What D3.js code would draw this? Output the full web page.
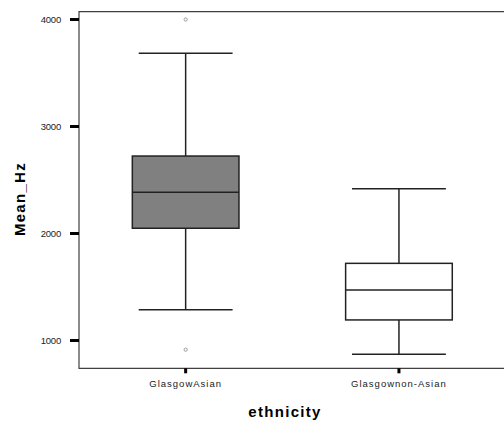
<!DOCTYPE html>
<html>
<head>
<meta charset="utf-8">
<script src="https://cdn.jsdelivr.net/npm/d3@7"></script>
<style>
	body { margin: 0; background: #fff; }
	svg { display: block; font-family: "Liberation Sans", Arial, sans-serif; }
</style>
</head>
<body>
<div id="chart"></div>
<script>
// groups on the x axis
const groups = ['GlasgowAsian', 'Glasgownon-Asian'];

// box statistics, one value per group
const whiskerLow = [1288, 871];
const q1 = [2049, 1192];
const median = [2385, 1472];
const q3 = [2724, 1721];
const whiskerHigh = [3684, 2418];

// outliers: [group index, value]
const outliers = [[0, 4000], [0, 914]];

const yTicks = [1000, 2000, 3000, 4000];

const width = 504, height = 423;

const svg = d3.select('#chart').append('svg')
	.attr('width', width)
	.attr('height', height);

const plotLeft = 79, plotTop = 11.7, plotBottom = 368.3;

const x = d3.scaleBand()
	.domain(groups)
	.range([plotLeft, 505.6])
	.padding(0);

const y = d3.scaleLinear()
	.domain([740, 4073])
	.range([plotBottom, plotTop]);

const boxW = x.bandwidth() * 0.5;
const capW = x.bandwidth() * 0.22;
const frame = '#404040';

// frame: top, left and bottom lines
svg.append('path')
	.attr('d', `M${width},${plotTop}H${plotLeft}V${plotBottom}H${width}`)
	.attr('fill', 'none')
	.attr('stroke', frame)
	.attr('stroke-width', 1.2);

// y axis ticks + labels
const yAxis = svg.append('g').classed('y-axis', true);
yTicks.forEach(t => {
	yAxis.append('line')
		.attr('x1', plotLeft - 9).attr('x2', plotLeft)
		.attr('y1', y(t)).attr('y2', y(t))
		.attr('stroke', '#000').attr('stroke-width', 3);
	yAxis.append('text')
		.attr('x', plotLeft - 18)
		.attr('y', y(t) + 3.5)
		.attr('text-anchor', 'end')
		.attr('font-size', 9.5)
		.attr('letter-spacing', -0.2)
		.attr('fill', '#222')
		.text(t);
});

// x axis ticks + labels
groups.forEach(g => {
	const cx = x(g) + x.bandwidth() / 2;
	svg.append('line')
		.attr('x1', cx).attr('x2', cx)
		.attr('y1', plotBottom).attr('y2', plotBottom + 5)
		.attr('stroke', '#000').attr('stroke-width', 3);
	svg.append('text')
		.attr('x', cx)
		.attr('y', 387)
		.attr('text-anchor', 'middle')
		.attr('font-size', 9.5)
		.attr('letter-spacing', 1)
		.attr('fill', '#222')
		.text(g);
});

// boxes
const boxes = svg.append('g').classed('boxes', true);
groups.forEach((g, i) => {
	const cx = x(g) + x.bandwidth() / 2;
	const gb = boxes.append('g');
	const ink = '#222', sw = 1.5;

	// whiskers
	gb.append('line')
		.attr('x1', cx).attr('x2', cx)
		.attr('y1', y(whiskerHigh[i])).attr('y2', y(q3[i]))
		.attr('stroke', ink).attr('stroke-width', sw);
	gb.append('line')
		.attr('x1', cx).attr('x2', cx)
		.attr('y1', y(q1[i])).attr('y2', y(whiskerLow[i]))
		.attr('stroke', ink).attr('stroke-width', sw);
	[whiskerHigh[i], whiskerLow[i]].forEach(v => {
		gb.append('line')
			.attr('x1', cx - capW).attr('x2', cx + capW)
			.attr('y1', y(v)).attr('y2', y(v))
			.attr('stroke', ink).attr('stroke-width', sw);
	});

	gb.append('rect')
		.attr('x', cx - boxW / 2)
		.attr('y', y(q3[i]))
		.attr('width', boxW)
		.attr('height', y(q1[i]) - y(q3[i]))
		.attr('fill', i == 0 ? '#808080' : '#fff')
		.attr('stroke', ink).attr('stroke-width', sw);

	gb.append('line')
		.attr('x1', cx - boxW / 2).attr('x2', cx + boxW / 2)
		.attr('y1', y(median[i])).attr('y2', y(median[i]))
		.attr('stroke', ink).attr('stroke-width', sw);
});

// outlier markers (tiny grey glyphs)
outliers.forEach(([gi, v]) => {
	const cx = x(groups[gi]) + x.bandwidth() / 2;
	svg.append('circle')
		.attr('cx', cx)
		.attr('cy', y(v))
		.attr('r', 1.6)
		.attr('fill', 'none')
		.attr('stroke', '#999')
		.attr('stroke-width', 1);
});

// axis titles
svg.append('text')
	.attr('transform', 'translate(25,199) rotate(-90)')
	.attr('text-anchor', 'middle')
	.attr('font-size', 15)
	.attr('font-weight', 'bold')
	.attr('letter-spacing', 1.3)
	.text('Mean_Hz');

svg.append('text')
	.attr('x', 285)
	.attr('y', 417)
	.attr('text-anchor', 'middle')
	.attr('font-size', 15)
	.attr('font-weight', 'bold')
	.attr('letter-spacing', 1.3)
	.text('ethnicity');
</script>
</body>
</html>
